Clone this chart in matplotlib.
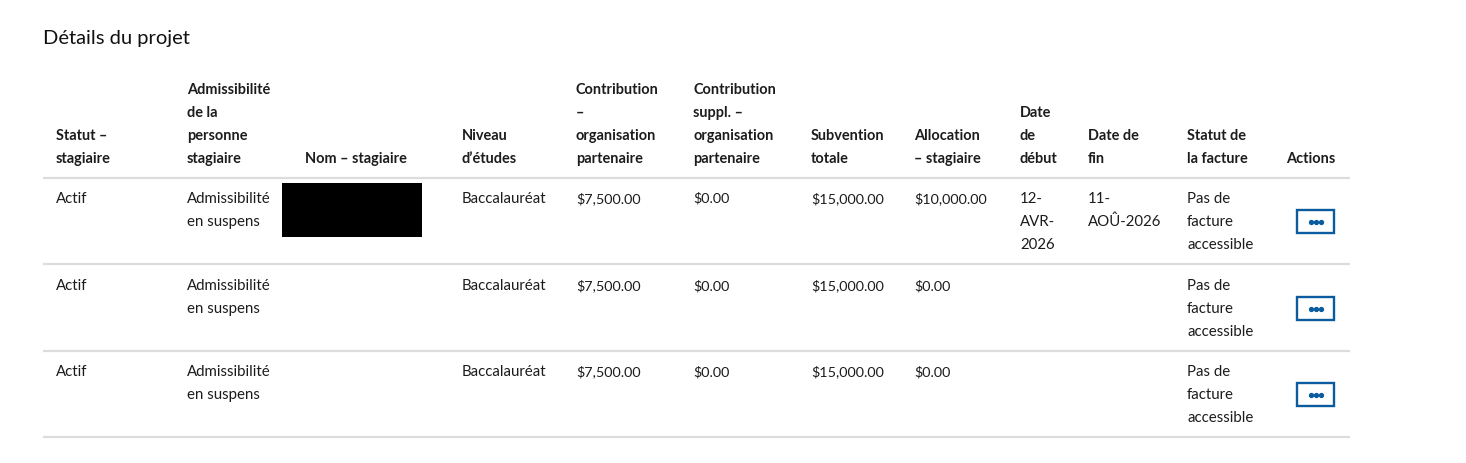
import matplotlib
matplotlib.use("Agg")
import matplotlib.pyplot as plt
from matplotlib.patches import Rectangle

W, H = 1466, 463
title = "Détails du projet"
headers = [
    ["Statut –", "stagiaire"],
    ["Admissibilité", "de la", "personne", "stagiaire"],
    ["Nom – stagiaire"],
    ["Niveau", "d’études"],
    ["Contribution", "–", "organisation", "partenaire"],
    ["Contribution", "suppl. –", "organisation", "partenaire"],
    ["Subvention", "totale"],
    ["Allocation", "– stagiaire"],
    ["Date", "de", "début"],
    ["Date de", "fin"],
    ["Statut de", "la facture"],
    ["Actions"],
]
statut = ["Actif", "Actif", "Actif"]
admissibilite = [["Admissibilité", "en suspens"]] * 3
nom = [[], [], []]
niveau = ["Baccalauréat"] * 3
contribution = ["$7,500.00"] * 3
contribution_suppl = ["$0.00"] * 3
subvention = ["$15,000.00"] * 3
allocation = ["$10,000.00", "$0.00", "$0.00"]
date_debut = [["12-", "AVR-", "2026"], [], []]
date_fin = [["11-", "AOÛ-2026"], [], []]
facture = [["Pas de", "facture", "accessible"]] * 3

col_x = [56, 187, 305, 462, 576, 693, 811, 914, 1020, 1088, 1187, 1286]
row_top = [203, 290, 376]
rules = [178, 264, 351, 437]
LINE = 23.1
INK = "#1c1c1c"
BLUE = "#0b5c9e"
FONT = ["Lato", "DejaVu Sans"]

fig = plt.figure(figsize=(W / 100, H / 100), dpi=100, facecolor="white")
ax = fig.add_axes([0, 0, 1, 1])
ax.set_xlim(0, W)
ax.set_ylim(H, 0)
ax.axis("off")

ax.text(43, 44, title, fontsize=14.5, family=FONT, color="#111111", va="baseline")

for x, lines in zip(col_x, headers):
    for i, s in enumerate(reversed(lines)):
        ax.text(x, 163 - i * LINE, s, fontsize=10.45, family=FONT, weight="bold",
                color=INK, va="baseline")

for y in rules:
    ax.plot([43, 1350], [y, y], color="#dcdcdc", lw=1.6, solid_capstyle="butt")

columns = [statut, admissibilite, nom, niveau, contribution, contribution_suppl,
           subvention, allocation, date_debut, date_fin, facture]
for x, col in zip(col_x, columns):
    for r, cell in enumerate(col):
        lines = [cell] if isinstance(cell, str) else cell
        for i, s in enumerate(lines):
            is_number = s[0] == "$"
            ax.text(x, row_top[r] + i * LINE, s, fontsize=10.4 if is_number else 10.85,
                    family=FONT, color=INK, va="baseline")

# masked name in the first row
ax.add_patch(Rectangle((282, 183), 140, 53.5, facecolor="black", edgecolor="none"))

# action buttons
for y in row_top:
    ax.add_patch(Rectangle((1297, y + 6.8), 37, 23, facecolor="white",
                           edgecolor=BLUE, lw=1.7))
    ax.plot([1310.5, 1315.5, 1320.5], [y + 18.5] * 3, ls="none", marker="o",
            ms=2.8, color=BLUE)

fig.savefig("out.png", dpi=100, facecolor="white")
